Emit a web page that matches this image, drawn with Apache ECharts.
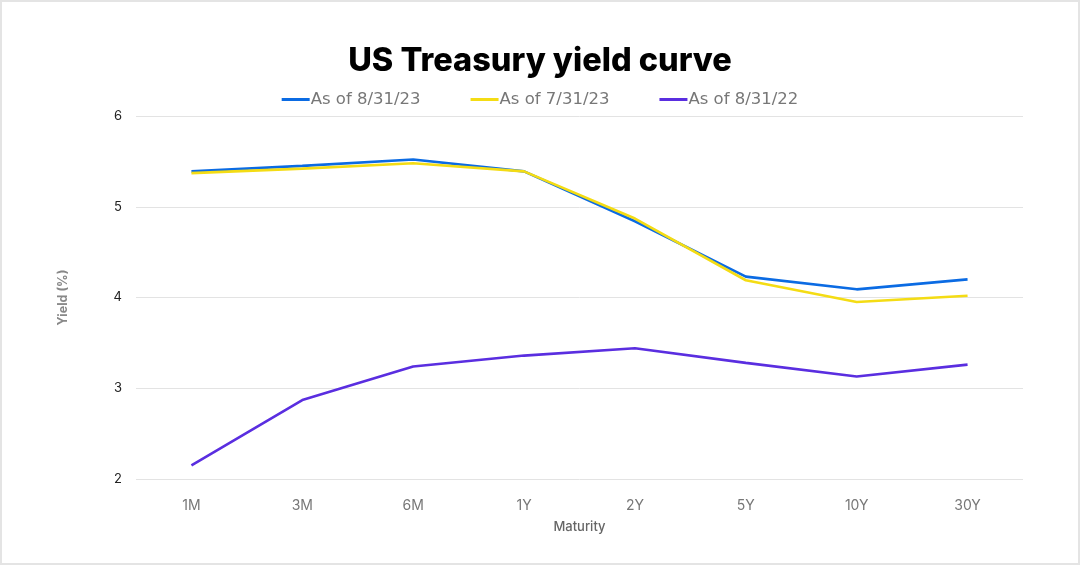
<!DOCTYPE html>
<html>
<head>
<meta charset="utf-8">
<script src="https://cdn.jsdelivr.net/npm/echarts@6/dist/echarts.min.js"></script>
<style>
html,body{margin:0;padding:0;background:#fff;}
#chart{width:1080px;height:565px;box-sizing:border-box;border:2px solid #e4e4e4;}
</style>
</head>
<body>
<div id="chart"></div>
<script>
const categories = ['1M','3M','6M','1Y','2Y','5Y','10Y','30Y'];
const seriesNames = ['As of 8/31/23','As of 7/31/23','As of 8/31/22'];
const aug23 = [5.39, 5.45, 5.52, 5.39, 4.84, 4.23, 4.09, 4.20];
const jul23 = [5.37, 5.42, 5.48, 5.39, 4.87, 4.19, 3.95, 4.02];
const aug22 = [2.15, 2.87, 3.24, 3.36, 3.44, 3.28, 3.13, 3.26];
const yTicks = [2, 3, 4, 5, 6];
const colors = ['#0b6be3', '#f4dc14', '#5a2ee0'];

const chart = echarts.init(document.getElementById('chart'));
const font = 'Inter, "Noto Sans", sans-serif';
chart.setOption({
  animation: false,
  title: {
    text: 'US Treasury yield curve',
    left: 'center',
    top: 38,
    textStyle: {fontFamily: font, fontSize: 32.5, fontWeight: 800, color: '#000'}
  },
  legend: {
    top: 84,
    left: 'center',
    itemGap: 50,
    itemWidth: 28,
    itemHeight: 3,
    icon: 'rect',
    textStyle: {fontFamily: '"DejaVu Sans", sans-serif', fontSize: 16.5, color: '#777', padding: [0,0,0,-4]},
    data: seriesNames
  },
  grid: {left: 134, right: 55, top: 114, bottom: 84},
  xAxis: {
    type: 'category',
    data: categories,
    boundaryGap: true,
    name: 'Maturity',
    nameLocation: 'middle',
    nameGap: 42,
    nameTextStyle: {fontFamily: font, fontSize: 13, color: '#666', fontWeight: 500},
    axisLine: {show: false},
    axisTick: {show: false},
    axisLabel: {fontFamily: font, fontSize: 14, color: '#777', margin: 20}
  },
  yAxis: {
    type: 'value',
    min: yTicks[0],
    max: yTicks[yTicks.length - 1],
    interval: 1,
    name: 'Yield (%)',
    nameLocation: 'middle',
    nameGap: 66,
    nameTextStyle: {fontFamily: font, fontSize: 12.5, color: '#888', fontWeight: 'bold'},
    axisLabel: {fontFamily: font, fontSize: 13, color: '#222', margin: 14},
    splitLine: {lineStyle: {color: '#e3e3e3', width: 1}}
  },
  series: [
    {name: seriesNames[0], type: 'line', data: aug23, z: 3},
    {name: seriesNames[1], type: 'line', data: jul23, z: 4},
    {name: seriesNames[2], type: 'line', data: aug22, z: 2}
  ].map((s, i) => Object.assign(s, {
    showSymbol: false,
    symbol: 'none',
    color: colors[i],
    lineStyle: {width: 2.6, color: colors[i]}
  }))
});
</script>
</body>
</html>
